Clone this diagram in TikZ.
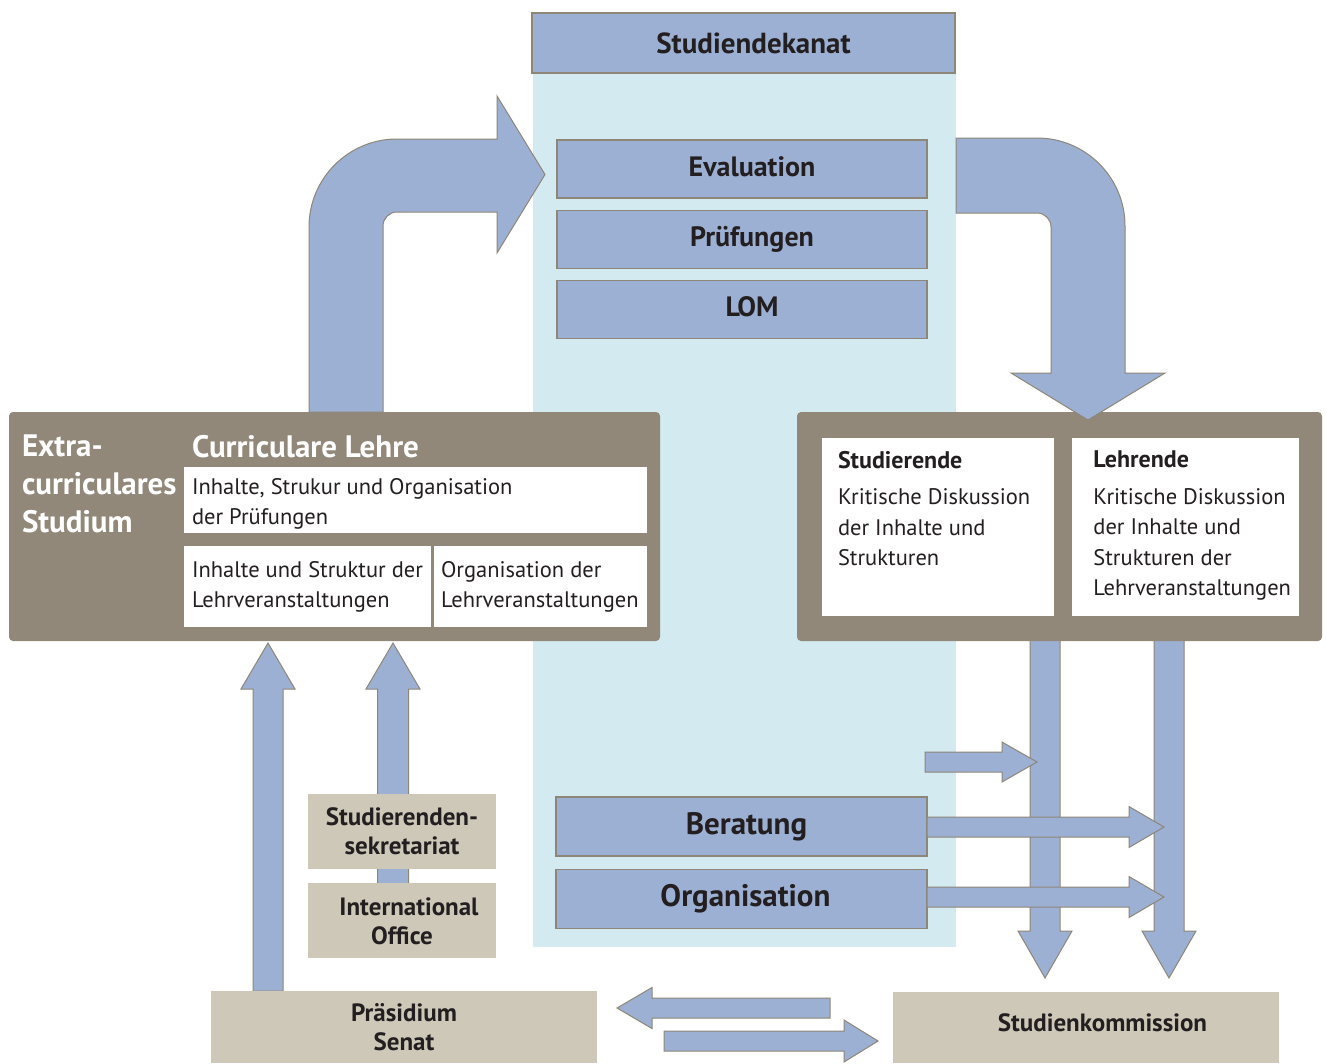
\documentclass[tikz,border=0pt]{standalone}
\usepackage{fontspec}
\setmainfont{PT Sans}
\usetikzlibrary{positioning}
\definecolor{boxblue}{HTML}{9CB0D3}
\definecolor{edgegray}{HTML}{8E8677}
\definecolor{paleblue}{HTML}{D2EAF0}
\definecolor{mudbrown}{HTML}{928879}
\definecolor{sandbeige}{HTML}{CEC8B8}
\definecolor{inkdark}{HTML}{231F20}
\tikzset{
    blockarrow/.style={fill=boxblue, draw=edgegray, line width=1pt},
    bluebox/.style={draw=edgegray, fill=boxblue, line width=1.2pt, inner sep=0pt, text=inkdark, font=\bfseries\fontsize{28}{32}\selectfont},
    brownbox/.style={fill=mudbrown, rounded corners=4pt, inner sep=0pt},
    whitebox/.style={fill=white, inner sep=0pt},
    beigebox/.style={fill=sandbeige, inner sep=0pt, align=center, text=inkdark, font=\bfseries\fontsize{25}{29}\selectfont},
    bodytext/.style={inner sep=0pt, align=left, text=inkdark, font=\fontsize{22.5}{30.5}\selectfont},
    headtext/.style={inner sep=0pt, align=left, text=white, font=\bfseries\fontsize{31}{38}\selectfont}
}
% x, y start, y head base, y tip, shaft half width, head half width
\newcommand{\drawBlockArrowV}[6]{
    \filldraw[blockarrow] (#1-#5,#2) -- (#1-#5,#3) -- (#1-#6,#3) -- (#1,#4) -- (#1+#6,#3) -- (#1+#5,#3) -- (#1+#5,#2) -- cycle;
}
% y, x start, x head base, x tip, shaft half width, head half width
\newcommand{\drawBlockArrowH}[6]{
    \filldraw[blockarrow] (#2,#1-#5) -- (#3,#1-#5) -- (#3,#1-#6) -- (#4,#1) -- (#3,#1+#6) -- (#3,#1+#5) -- (#2,#1+#5) -- cycle;
}

\begin{document}
\begin{tikzpicture}[x=1pt,y=-1pt]
    \useasboundingbox (0,0) rectangle (1327,1063);
    \fill[paleblue] (533,73) rectangle (956,947);

    \node[bluebox, minimum width=423pt, minimum height=60pt, font=\bfseries\fontsize{29}{33}\selectfont] (dekanat) at (743.5,43) {\hspace*{20pt}\raisebox{-2pt}{Studiendekanat}};
    \node[bluebox, minimum width=370pt, minimum height=58pt] (eval) at (742,169) {\hspace*{20pt}\raisebox{4pt}{Evaluation}};
    \node[bluebox, minimum width=370pt, minimum height=58pt, below=11pt of eval] (pruef) {\hspace*{20pt}\raisebox{4pt}{Prüfungen}};
    \node[bluebox, minimum width=370pt, minimum height=58pt, below=11pt of pruef] (lom) {\hspace*{20pt}\raisebox{6pt}{LOM}};
    \node[bluebox, minimum width=371pt, minimum height=59pt, font=\bfseries\fontsize{31}{35}\selectfont] (beratung) at (741.5,826.5) {\hspace*{10pt}\raisebox{-3pt}{Beratung}};
    \node[bluebox, minimum width=371pt, minimum height=59pt, font=\bfseries\fontsize{31}{35}\selectfont, below=12pt of beratung] (orga) {\hspace*{8pt}Organisation};

    % down arrows to the Studienkommission
    \drawBlockArrowV{1045}{630}{931}{978}{15}{27}
    \drawBlockArrowV{1169}{630}{931}{978}{15}{27}

    % left block
    \node[brownbox, minimum width=651pt, minimum height=229pt] (extBox) at (334.5,526.5) {};
    \node[headtext, anchor=north west, xshift=13pt, yshift=-23pt] (extText) at (extBox.north west) {Extra-\\curriculares\\Studium};
    \node[headtext, anchor=north west, xshift=183pt, yshift=-23pt] (curText) at (extBox.north west) {Curriculare Lehre};
    \node[whitebox, minimum width=463pt, minimum height=66pt] (pruefInh) at (415.5,500) {};
    \node[whitebox, minimum width=247pt, minimum height=81pt] (lvInh) at (307.5,586.5) {};
    \node[whitebox, minimum width=213pt, minimum height=81pt] (lvOrg) at (540.5,586.5) {};
    \node[bodytext, anchor=north west, xshift=8pt, yshift=-11pt] at (pruefInh.north west) {Inhalte, Strukur und Organisation\\der Prüfungen};
    \node[bodytext, anchor=north west, xshift=8pt, yshift=-15pt] at (lvInh.north west) {Inhalte und Struktur der\\Lehrveranstaltungen};
    \node[bodytext, anchor=north west, xshift=7pt, yshift=-15pt] at (lvOrg.north west) {Organisation der\\Lehrveranstaltungen};

    % right block
    \node[brownbox, minimum width=525pt, minimum height=229pt] (evalBox) at (1059.5,526.5) {};
    \node[whitebox, minimum width=232pt, minimum height=178pt] (stud) at (938,527) {};
    \node[whitebox, minimum width=227pt, minimum height=178pt, right=18pt of stud] (lehr) {};
    \node[bodytext, anchor=north west, xshift=16pt, yshift=-13pt] at (stud.north west) {\textbf{\fontsize{24}{30}\selectfont Studierende}\\[6pt]Kritische Diskussion\\der Inhalte und\\Strukturen};
    \node[bodytext, anchor=north west, xshift=21pt, yshift=-13pt] at (lehr.north west) {\textbf{\fontsize{24}{30}\selectfont Lehrende}\\[6pt]Kritische Diskussion\\der Inhalte und\\Strukturen der\\Lehrveranstaltungen};

    % curved arrows
    \filldraw[blockarrow] (309,412) -- (309,227) arc[start angle=180, end angle=90, radius=88pt]
        -- (497,139) -- (497,96) -- (545,174.5) -- (497,253) -- (497,212) -- (397,212)
        arc[start angle=90, end angle=180, radius=14pt] -- (383,412) -- cycle;
    \filldraw[blockarrow] (956,138) -- (1037,138) arc[start angle=90, end angle=0, radius=88pt]
        -- (1125,373) -- (1165,373) -- (1088,420) -- (1011,373) -- (1051,373) -- (1051,227)
        arc[start angle=0, end angle=90, radius=14pt] -- (956,213) -- cycle;

    % arrows into the down arrows
    \drawBlockArrowH{762}{925}{1002}{1037}{10}{20}
    \drawBlockArrowH{827}{927}{1129}{1164}{10}{20.5}
    \drawBlockArrowH{897}{927}{1129}{1164}{10}{20.5}

    % up arrows
    \drawBlockArrowV{268}{991}{689}{643}{15}{27}
    \drawBlockArrowV{393}{920}{689}{643}{15.5}{27}

    \node[beigebox, minimum width=188pt, minimum height=75pt] (sekr) at (402,831.5) {Studierenden-\\sekretariat};
    \node[beigebox, minimum width=188pt, minimum height=75pt, below=14pt of sekr] (intl) {\hspace*{14pt}International\\Office};
    \node[beigebox, minimum width=386pt, minimum height=72pt] (praes) at (404,1027) {Präsidium\\Senat};
    \node[beigebox, minimum width=386pt, minimum height=71pt] (komm) at (1086,1027.5) {\hspace*{33pt}\raisebox{9pt}{Studienkommission}};

    % arrows between Senat and Studienkommission
    \drawBlockArrowH{1008}{830}{652}{617}{10}{20.5}
    \drawBlockArrowH{1041}{664}{844}{878}{10}{21}
\end{tikzpicture}
\end{document}
